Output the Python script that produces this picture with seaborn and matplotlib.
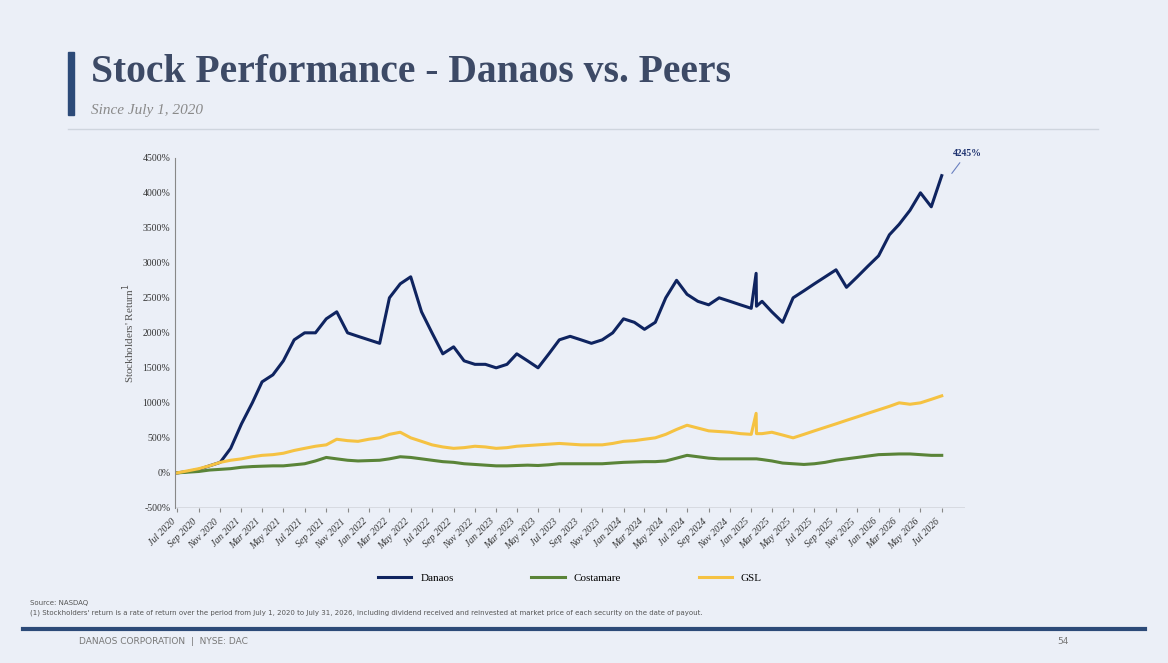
import pandas as pd
import numpy as np
import matplotlib.pyplot as plt
import matplotlib.dates as mdates
import seaborn as sns

# monthly stockholders' return (%), Jul 2020 .. Jul 2026
danaos = [0, 20, 50, 100, 150, 350, 700, 1000, 1300, 1400, 1600, 1900,
          2000, 2000, 2200, 2300, 2000, 1950, 1900, 1850, 2500, 2700, 2800, 2300,
          2000, 1700, 1800, 1600, 1550, 1550, 1500, 1550, 1700, 1600, 1500, 1700,
          1900, 1950, 1900, 1850, 1900, 2000, 2200, 2150, 2050, 2150, 2500, 2750,
          2550, 2450, 2400, 2500, 2450, 2400, 2350, 2450, 2300, 2150, 2500, 2600,
          2700, 2800, 2900, 2650, 2800, 2950, 3100, 3400, 3550, 3750, 4000, 3800,
          4245]
costamare = [0, 10, 20, 40, 50, 60, 80, 90, 95, 100, 100, 115,
             130, 170, 220, 200, 180, 170, 175, 180, 200, 230, 220, 200,
             180, 160, 150, 130, 120, 110, 100, 100, 105, 110, 105, 115,
             130, 130, 130, 130, 130, 140, 150, 155, 160, 160, 170, 210,
             250, 230, 210, 200, 200, 200, 200, 190, 170, 140, 130, 120,
             130, 150, 180, 200, 220, 240, 260, 265, 270, 270, 260, 250,
             250]
gsl = [0, 30, 60, 100, 150, 180, 200, 230, 250, 260, 280, 320,
       350, 380, 400, 480, 460, 450, 480, 500, 550, 580, 500, 450,
       400, 370, 350, 360, 380, 370, 350, 360, 380, 390, 400, 410,
       420, 410, 400, 400, 400, 420, 450, 460, 480, 500, 550, 620,
       680, 640, 600, 590, 580, 560, 550, 560, 580, 540, 500, 550,
       600, 650, 700, 750, 800, 850, 900, 950, 1000, 980, 1000, 1050,
       1100]

dates = pd.date_range('2020-07-01', periods=73, freq='MS')
df = pd.DataFrame({'Date': dates, 'Danaos': danaos, 'Costamare': costamare, 'GSL': gsl})
# one-day spikes in Jan 2025
spike = pd.DataFrame({'Date': [pd.Timestamp('2025-01-15'), pd.Timestamp('2025-01-16')],
                      'Danaos': [2850, 2380], 'Costamare': [200, 200], 'GSL': [850, 560]})
df = pd.concat([df, spike]).sort_values('Date')
long_df = df.melt(id_vars='Date', var_name='Company', value_name='Return')

bg = '#ebeff7'
fig = plt.figure(figsize=(11.68, 6.63), dpi=100, facecolor=bg)
ax = fig.add_axes([0.150, 0.234, 0.676, 0.528])
ax.set_facecolor(bg)
sns.lineplot(data=long_df, x='Date', y='Return', hue='Company',
             palette={'Danaos': '#0f2460', 'Costamare': '#5a8438', 'GSL': '#f5c242'},
             linewidth=2.2, ax=ax)

ax.set_ylim(-500, 4500)
ax.set_yticks(range(-500, 4501, 500))
ax.set_yticklabels([f'{v}%' for v in range(-500, 4501, 500)], fontsize=7, family='Liberation Serif', color='#333333')
ax.set_xlim(pd.Timestamp('2020-06-25'), pd.Timestamp('2026-09-05'))
ticks = pd.date_range('2020-07-01', '2026-07-01', freq='2MS')
ax.set_xticks(ticks)
ax.set_xticklabels([t.strftime('%b %Y') for t in ticks], rotation=45, ha='right',
                   fontsize=7, family='Liberation Serif', style='italic', color='#333333')
ax.tick_params(axis='x', length=3, color='#888888')
ax.tick_params(axis='y', length=0)
for s in ['top', 'right', 'bottom']:
    ax.spines[s].set_visible(False)
ax.spines['left'].set_color('#888888')
ax.axhline(-500, color='#888888', linewidth=1)
ax.set_xlabel('')
ax.set_ylabel("Stockholders' Return$^1$", fontsize=8, family='Liberation Serif', color='#555555')

ax.annotate('4245%', xy=(pd.Timestamp('2026-07-25'), 4245), xytext=(pd.Timestamp('2026-08-01'), 4530),
            fontsize=7, fontweight='bold', color='#1f3370', family='Liberation Serif',
            arrowprops=dict(arrowstyle='-', color='#6a80c0', lw=0.8))

handles, labels = ax.get_legend_handles_labels()
ax.legend(handles, labels, loc='center', bbox_to_anchor=(0.5, -0.2), ncol=3, frameon=False,
          prop={'family': 'Liberation Serif', 'size': 8}, handlelength=3, columnspacing=7)

# title block
fig.patches.append(plt.Rectangle((0.058, 0.826), 0.005, 0.096, transform=fig.transFigure,
                                 color='#2c4a78', figure=fig))
fig.text(0.078, 0.89, 'Stock Performance - Danaos vs. Peers', fontsize=28.5, fontweight='bold',
         family='Liberation Serif', color='#3d4a66', va='center')
fig.text(0.078, 0.834, 'Since July 1, 2020', fontsize=11, style='italic',
         family='Liberation Serif', color='#8a8a8a', va='center')
fig.add_artist(plt.Line2D([0.058, 0.94], [0.805, 0.805], color='#cfd5de', lw=1))

fig.text(0.026, 0.087, 'Source: NASDAQ', fontsize=5, color='#555555')
fig.text(0.026, 0.073, "(1) Stockholders' return is a rate of return over the period from July 1, 2020 to July 31, 2026, "
         "including dividend received and reinvested at market price of each security on the date of payout.",
         fontsize=5, color='#555555')
fig.add_artist(plt.Line2D([0.02, 0.98], [0.052, 0.052], color='#2c4a78', lw=3))
fig.text(0.068, 0.033, 'DANAOS CORPORATION  |  NYSE: DAC', fontsize=6.5, color='#777777', va='center')
fig.text(0.905, 0.033, '54', fontsize=6.5, color='#777777', va='center')

fig.savefig('out.png', dpi=100, facecolor=bg)
